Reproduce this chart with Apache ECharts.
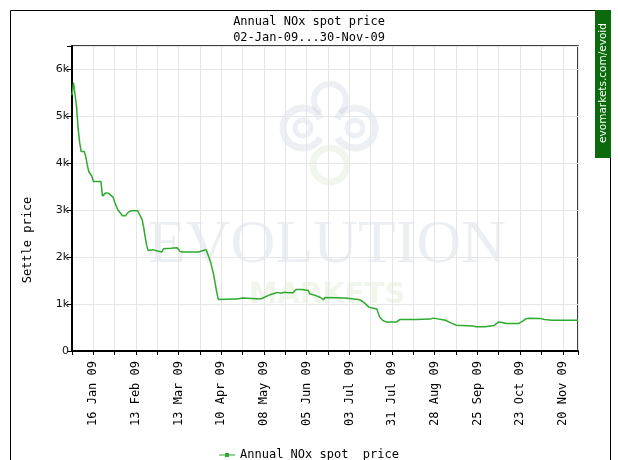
<!DOCTYPE html>
<html>
<head>
<meta charset="utf-8">
<script src="https://cdn.jsdelivr.net/npm/echarts@6/dist/echarts.min.js"></script>
<style>html,body{margin:0;padding:0;background:#fff;}#c{width:618px;height:460px;}</style>
</head>
<body>
<div id="c"></div>
<script>
// ---- data ----
var startDate = '2009-01-02';
var endDate = '2009-11-30';
var dates = [
 '2009-01-02','2009-01-03','2009-01-05','2009-01-06','2009-01-07','2009-01-08','2009-01-10','2009-01-11','2009-01-12','2009-01-13',
 '2009-01-14','2009-01-15','2009-01-16','2009-01-21','2009-01-22','2009-01-23','2009-01-24','2009-01-26','2009-01-27','2009-01-29',
 '2009-01-30','2009-02-01','2009-02-03','2009-02-04','2009-02-05','2009-02-06','2009-02-08','2009-02-10','2009-02-14','2009-02-15',
 '2009-02-17','2009-02-18','2009-02-19','2009-02-20','2009-02-21','2009-02-22','2009-02-24','2009-02-27','2009-02-28','2009-03-02',
 '2009-03-03','2009-03-08','2009-03-12','2009-03-13','2009-03-14','2009-03-16','2009-03-26','2009-03-29','2009-03-31','2009-04-01',
 '2009-04-03','2009-04-05','2009-04-06','2009-04-07','2009-04-08','2009-04-18','2009-04-19','2009-04-20','2009-04-21','2009-04-24',
 '2009-04-25','2009-05-06','2009-05-08','2009-05-12','2009-05-15','2009-05-17','2009-05-19','2009-05-21','2009-05-24','2009-05-27',
 '2009-05-29','2009-05-30','2009-06-02','2009-06-06','2009-06-07','2009-06-11','2009-06-14','2009-06-16','2009-06-17','2009-06-30',
 '2009-07-01','2009-07-09','2009-07-11','2009-07-13','2009-07-16','2009-07-19','2009-07-21','2009-07-22','2009-07-23','2009-07-25',
 '2009-07-27','2009-08-03','2009-08-05','2009-08-16','2009-08-25','2009-08-27','2009-08-29','2009-09-04','2009-09-08','2009-09-11',
 '2009-09-22','2009-09-24','2009-09-30','2009-10-01','2009-10-06','2009-10-09','2009-10-12','2009-10-14','2009-10-22','2009-10-25',
 '2009-10-27','2009-10-29','2009-11-05','2009-11-08','2009-11-13','2009-11-30'
];
var prices = [
 5450,5720,5200,4750,4450,4250,4250,4150,3970,3820,
 3790,3730,3610,3610,3300,3340,3370,3360,3370,3280,
 3170,3010,2930,2880,2910,2880,2960,2990,2990,2930,
 2800,2640,2430,2250,2140,2110,2160,2130,2110,2110,
 2180,2190,2200,2240,2120,2110,2110,2140,2160,2070,
 1890,1620,1430,1250,1100,1110,1130,1110,1130,1130,
 1100,1110,1140,1200,1230,1250,1230,1250,1240,1240,
 1310,1320,1310,1290,1220,1180,1140,1090,1140,1130,
 1110,1100,1070,1020,930,910,895,800,720,650,
 620,620,670,670,680,700,690,655,595,550,
 535,515,515,535,545,620,600,585,585,640,
 690,700,695,670,657,655
];
var yTicks = [0, 1000, 2000, 3000, 4000, 5000, 6000];
var yTickLabels = ['0', '1k', '2k', '3k', '4k', '5k', '6k'];
var seriesName = 'Annual NOx spot  price';
var titleText = 'Annual NOx spot price';
var subtitleText = '02-Jan-09...30-Nov-09';
var yAxisName = 'Settle price';
var watermarkText = 'evomarkets.com/evoid';

// ---- helpers ----
var DAY = 86400000;
var t0 = Date.parse(startDate + 'T00:00:00Z');
function dayOff(s) { return Math.round((Date.parse(s + 'T00:00:00Z') - t0) / DAY); }
var MON = ['Jan','Feb','Mar','Apr','May','Jun','Jul','Aug','Sep','Oct','Nov','Dec'];
function fmtDay(d) {
  var dt = new Date(t0 + d * DAY);
  var dd = dt.getUTCDate();
  return (dd < 10 ? '0' + dd : '' + dd) + ' ' + MON[dt.getUTCMonth()] + ' ' + String(dt.getUTCFullYear()).slice(2);
}
var xMax = dayOff(endDate);
var seriesData = dates.map(function (d, i) { return [dayOff(d), prices[i]]; });

var mono = 'DejaVu Sans Mono';
var chart = echarts.init(document.getElementById('c'), null, { renderer: 'canvas' });
chart.setOption({
  animation: false,
  backgroundColor: '#fff',
  title: {
    text: titleText,
    subtext: subtitleText,
    left: 'center',
    top: 16,
    itemGap: 4,
    padding: 0,
    textStyle: { fontFamily: mono, fontSize: 12, fontWeight: 'normal', color: '#000' },
    subtextStyle: { fontFamily: mono, fontSize: 12, color: '#000' }
  },
  legend: {
    top: 444,
    left: 'center',
    itemWidth: 16,
    itemHeight: 6,
    itemGap: 0,
    textStyle: { fontFamily: mono, fontSize: 12, color: '#000' },
    data: [{ name: seriesName, icon: 'path://M0,2.5 L16,2.5 L16,3.5 L0,3.5 Z M6,1 L10,1 L10,5 L6,5 Z' }]
  },
  grid: { left: 72, right: 40, top: 46, bottom: 109, show: true, borderColor: '#000', borderWidth: 1.5 },
  xAxis: {
    type: 'value',
    min: 0,
    max: xMax,
    interval: 14,
    axisLine: { show: true, lineStyle: { color: '#000', width: 2 } },
    axisTick: { show: true, length: 4, lineStyle: { color: '#000' } },
    splitLine: { show: true, lineStyle: { color: '#e6e6e6', width: 1 } },
    axisLabel: {
      rotate: 90,
      margin: 10,
      fontFamily: mono,
      fontSize: 12,
      color: '#000',
      showMinLabel: true,
      showMaxLabel: true,
      formatter: function (v) { return (v % 28 === 14) ? fmtDay(v) : ''; }
    }
  },
  yAxis: {
    type: 'value',
    min: 0,
    max: 6500,
    interval: 1000,
    axisLine: { show: true, lineStyle: { color: '#000', width: 2 } },
    axisTick: { show: true, length: 5, lineStyle: { color: '#000' } },
    splitLine: { show: true, lineStyle: { color: '#e6e6e6', width: 1 } },
    axisLabel: {
      margin: 3,
      fontFamily: 'DejaVu Sans',
      fontSize: 11,
      color: '#111',
      formatter: function (v) { var i = yTicks.indexOf(v); return i >= 0 ? yTickLabels[i] : ''; }
    }
  },
  graphic: [
    { type: 'rect', silent: true, z: 100, shape: { x: 10.5, y: 10.5, width: 600, height: 470 }, style: { fill: null, stroke: '#000', lineWidth: 1 } },
    { type: 'rect', silent: true, z: 101, shape: { x: 595, y: 10, width: 16, height: 148 }, style: { fill: '#0b6a0b' } },
    { type: 'text', silent: true, z: 102, x: 603, y: 83, rotation: Math.PI / 2,
      style: { text: watermarkText, fill: '#fff', font: '10.5px "DejaVu Sans"', align: 'center', verticalAlign: 'middle' } },
    { type: 'text', silent: true, z: 102, x: 28, y: 240, rotation: Math.PI / 2,
      style: { text: yAxisName, fill: '#000', font: '12px "DejaVu Sans Mono"', align: 'center', verticalAlign: 'middle' } },
    // watermark
    { type: 'text', silent: true, z: -1, x: 327, y: 246,
      style: { text: 'EVOLUTION', fill: 'rgba(205,215,225,0.4)', font: '62px "Liberation Serif"', align: 'center', verticalAlign: 'middle' } },
    { type: 'text', silent: true, z: -1, x: 327, y: 295,
      style: { text: 'MARKETS', fill: 'rgba(215,230,200,0.35)', font: 'bold 29px "DejaVu Sans"', align: 'center', verticalAlign: 'middle' } },
    { type: 'arc', silent: true, z: -1, shape: { cx: 303, cy: 128, r: 20, startAngle: 0.5, endAngle: 5.8 }, style: { stroke: 'rgba(200,210,220,0.35)', lineWidth: 7, fill: null } },
    { type: 'arc', silent: true, z: -1, shape: { cx: 303, cy: 128, r: 8, startAngle: 0, endAngle: 6.28 }, style: { stroke: 'rgba(200,210,220,0.35)', lineWidth: 5, fill: null } },
    { type: 'arc', silent: true, z: -1, shape: { cx: 355, cy: 128, r: 20, startAngle: 3.6, endAngle: 8.9 }, style: { stroke: 'rgba(200,210,220,0.35)', lineWidth: 7, fill: null } },
    { type: 'arc', silent: true, z: -1, shape: { cx: 355, cy: 128, r: 8, startAngle: 0, endAngle: 6.28 }, style: { stroke: 'rgba(200,210,220,0.35)', lineWidth: 5, fill: null } },
    { type: 'arc', silent: true, z: -1, shape: { cx: 330, cy: 100, r: 16, startAngle: 2.2, endAngle: 7.2 }, style: { stroke: 'rgba(200,210,220,0.35)', lineWidth: 6, fill: null } },
    { type: 'arc', silent: true, z: -1, shape: { cx: 330, cy: 165, r: 17, startAngle: 0, endAngle: 6.28 }, style: { stroke: 'rgba(215,228,200,0.35)', lineWidth: 7, fill: null } }
  ],
  series: [{
    name: seriesName,
    type: 'line',
    data: seriesData,
    symbol: 'none',
    smooth: false,
    lineStyle: { color: '#2eaa2e', width: 1.5 },
    itemStyle: { color: '#2eaa2e' },
    z: 5
  }]
});
</script>
</body>
</html>
